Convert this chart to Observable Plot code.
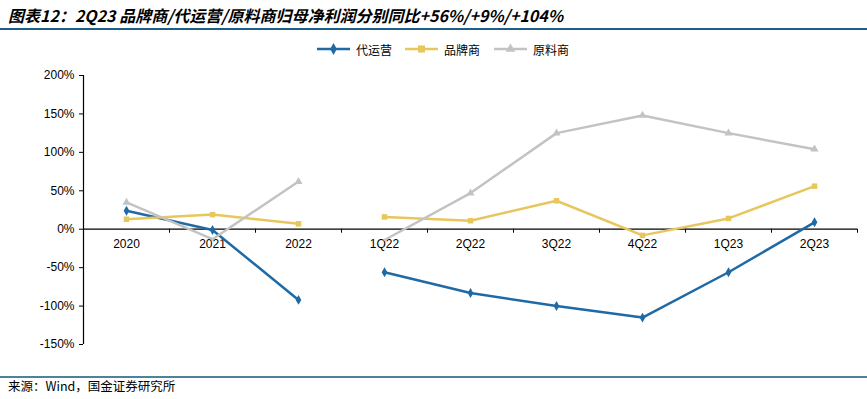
<!DOCTYPE html>
<html><head><meta charset="utf-8">
<script src="https://cdn.jsdelivr.net/npm/d3@7"></script>
<script src="https://cdn.jsdelivr.net/npm/@observablehq/plot@0.6"></script>
<style>
body{margin:0;background:#fff;}
#wrap{position:relative;width:867px;height:399px;overflow:hidden;font-family:"Noto Sans CJK SC",sans-serif;background:#fff;}
#title{position:absolute;left:8px;top:5px;font-size:16px;font-weight:bold;font-style:italic;color:#000;white-space:nowrap;line-height:20px;}
#tline{position:absolute;left:0;top:28px;width:867px;height:2px;background:#1d5d8a;}
.leg{position:absolute;top:40px;height:18px;display:flex;align-items:center;font-size:12px;color:#000;white-space:nowrap;}
.leg svg{margin-right:6px;}
#chart{position:absolute;left:0;top:60px;}
#fline{position:absolute;left:0;top:376px;width:867px;height:2px;background:#4f8198;}
#foot{position:absolute;left:8px;top:378px;font-size:12.5px;line-height:16px;color:#000;white-space:nowrap;}
</style></head>
<body>
<div id="wrap">
  <div id="title"></div>
  <div id="tline"></div>
  <div id="legend"></div>
  <div id="chart"></div>
  <div id="fline"></div>
  <div id="foot"></div>
</div>
<script>
const titleText = "图表12：2Q23 品牌商/代运营/原料商归母净利润分别同比+56%/+9%/+104%";
const footText = "来源：Wind，国金证券研究所";
const categories = ["2020","2021","2022","1Q22","2Q22","3Q22","4Q22","1Q23","2Q23"];
const groups = ["年度","年度","年度","季度","季度","季度","季度","季度","季度"];
const seriesNames = ["代运营","品牌商","原料商"];
const daiyunying = [24, -1, -92, -56, -83, -100, -115, -56, 9];
const pinpaishang = [13, 19, 7, 16, 11, 37, -8, 14, 56];
const yuanliaoshang = [35, -13, 62, -14, 47, 125, 148, 125, 104];
const yTicks = [-150, -100, -50, 0, 50, 100, 150, 200];

const colors = {"代运营": "#1f6aa5", "品牌商": "#e8c65e", "原料商": "#c3c3c3"};
const symbols = {"代运营": "diamond", "品牌商": "square", "原料商": "triangle"};
const seriesValues = [daiyunying, pinpaishang, yuanliaoshang];

const rows = [];
seriesNames.forEach((s, k) => {
  seriesValues[k].forEach((v, i) => rows.push({series: s, i, cat: categories[i], group: groups[i], value: v}));
});

document.getElementById("title").textContent = titleText;
document.getElementById("foot").textContent = footText;

// legend
const legendLeft = [317, 405, 494];
const legend = document.getElementById("legend");
seriesNames.forEach((s, k) => {
  const div = document.createElement("div");
  div.className = "leg";
  div.style.left = legendLeft[k] + "px";
  const sym = d3.symbol(s === "代运营" ? d3.symbolDiamond : s === "品牌商" ? d3.symbolSquare : d3.symbolTriangle, s === "品牌商" ? 50 : 40)();
  div.innerHTML = `<svg width="33" height="12"><line x1="0" x2="33" y1="6" y2="6" stroke="${colors[s]}" stroke-width="2.5"/><path d="${sym}" transform="translate(16.5,6)" fill="${colors[s]}"/></svg><span>${s}</span>`;
  legend.appendChild(div);
});

const bounds = d3.range(categories.length + 1).map(i => i - 0.5);

const chart = Plot.plot({
  width: 867,
  height: 300,
  marginTop: 15,
  marginBottom: 16,
  marginLeft: 83,
  marginRight: 10,
  style: {fontFamily: "'Liberation Sans', Arial, sans-serif", fontSize: "12px", color: "#000", background: "#fff"},
  x: {type: "linear", domain: [-0.5, categories.length - 0.5], axis: null},
  y: {domain: [-150, 200], ticks: yTicks, tickFormat: d => d + "%", tickSize: 4, tickPadding: 5, label: null},
  marks: [
    Plot.ruleX([-0.5], {stroke: "#000", strokeWidth: 1.2}),
    Plot.ruleY([0], {stroke: "#000", strokeWidth: 1.2}),
    Plot.ruleX(bounds, {x: d => d, y1: () => 0, y2: () => 0, insetBottom: -4, stroke: "#000"}),
    Plot.text(categories, {x: (d, i) => i, y: () => 0, dy: 15, text: d => d, fontSize: 12, fill: "#000"}),
    Plot.line(rows, {x: "i", y: "value", z: d => d.series + d.group, stroke: d => colors[d.series], strokeWidth: 2.5}),
    Plot.dot(rows.filter(d => !(d.series === "原料商" && d.value < 0)), {
      x: "i", y: "value",
      symbol: d => symbols[d.series],
      fill: d => colors[d.series],
      r: d => d.series === "品牌商" ? 4.5 : 4.2,
      stroke: "none"
    })
  ]
});
document.getElementById("chart").appendChild(chart);
</script>
</body></html>
